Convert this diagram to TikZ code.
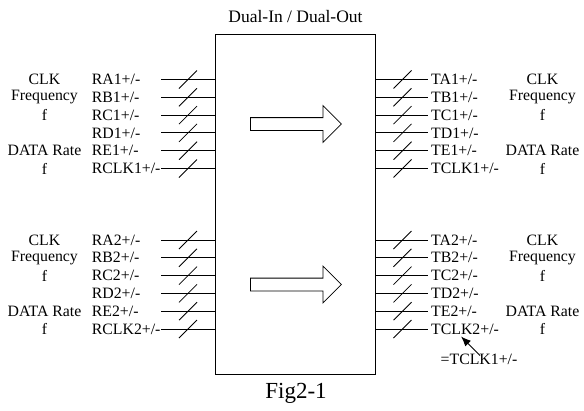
\documentclass[tikz,border=0pt]{standalone}
\usepackage{fontspec}
\setmainfont{Liberation Serif}
\usetikzlibrary{arrows.meta,positioning,calc,shapes.arrows}
\tikzset{
  blokk/.style={draw,line width=1pt,minimum width=160pt,minimum height=340pt,inner sep=0pt},
  jel/.style={font=\fontsize{15.8}{18}\selectfont,inner sep=0pt,anchor=west},
  leiras/.style={font=\fontsize{15.8}{18}\selectfont,inner sep=0pt,align=center},
  vonal/.style={line width=0.9pt},
  perjel/.style={line width=0.8pt},
  uresnyil/.style={single arrow,draw,line width=0.8pt,inner sep=6pt,minimum height=91pt,
                   single arrow head extend=12pt,anchor=tail},
  mutato/.style={-{Latex[length=10pt,width=8pt]},line width=1pt},
}
\begin{document}
\begin{tikzpicture}[x=1pt,y=-1pt]
  \useasboundingbox (0,0) rectangle (584,410);
  \node[blokk] (box) at (295,204.5) {};
  \node[font=\fontsize{17.5}{20}\selectfont,inner sep=0pt] (cim) at (295.5,17) {Dual-In / Dual-Out};
  \node[font=\fontsize{23}{26}\selectfont,inner sep=0pt] (abra) at (296,393) {Fig2-1};
  % jelvonalak, ket csoport
  \foreach \g/\y in {1/79.5,2/240}{
    \foreach \n [count=\i from 0] in {A,B,C,D,E,CLK}{
      \pgfmathsetmacro{\yy}{\y+17.8*\i}
      \coordinate (r\n\g) at (161,\yy);
      \coordinate (t\n\g) at (428,\yy);
      \node[jel] (lr\n\g) at (91.7,\yy) {R\n\g+/-};
      \node[jel] (lt\n\g) at (431,\yy) {T\n\g+/-};
      \draw[vonal] (r\n\g) -- (r\n\g -| box.west);
      \draw[vonal] (box.east |- t\n\g) -- (t\n\g);
      \draw[perjel] (179,\yy+9) -- ++(18,-18);
      \draw[perjel] (393.5,\yy+9) -- ++(18,-18);
    }
    \node[leiras] (clkL\g) at (44.5,\y) {CLK};
    \node[leiras] (freqL\g) at (44.5,\y+17.8) {Frequency};
    \node[leiras] (fL\g) at (44.5,\y+35.6) {f};
    \node[leiras] (dataL\g) at (44.5,\y+71.2) {DATA Rate};
    \node[leiras] (ffL\g) at (44.5,\y+89) {f};
    \node[leiras] (clkR\g) at (542.5,\y) {CLK};
    \node[leiras] (freqR\g) at (542.5,\y+17.8) {Frequency};
    \node[leiras] (fR\g) at (542.5,\y+35.6) {f};
    \node[leiras] (dataR\g) at (542.5,\y+71.2) {DATA Rate};
    \node[leiras] (ffR\g) at (542.5,\y+89) {f};
  }
  % ures nyilak a dobozban
  \node[uresnyil] (ny1) at (250,124) {};
  \node[uresnyil] (ny2) at (250,284.5) {};
  % megjegyzes
  \node[leiras] (megj) at (479,359) {=TCLK1+/-};
  \draw[mutato] ([xshift=1pt,yshift=-2pt]megj.north) -- ([xshift=-4pt,yshift=-2pt]ltCLK2.south);
\end{tikzpicture}
\end{document}
